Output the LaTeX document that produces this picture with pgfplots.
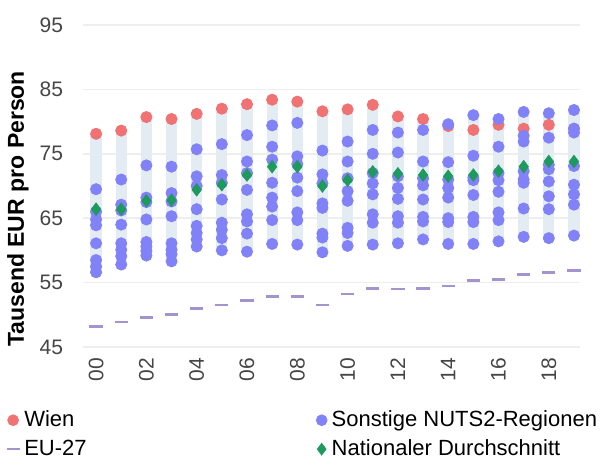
\documentclass[border=0pt]{standalone}
\usepackage{fontspec}
\setmainfont{Liberation Sans}
\usepackage{pgfplots}
\pgfplotsset{compat=1.18}
\usepackage{pgfplotstable}
\usetikzlibrary{calc}

\definecolor{wien}{HTML}{F07272}
\definecolor{nuts}{HTML}{8282F8}
\definecolor{natd}{HTML}{1E9A5E}
\definecolor{eu}{HTML}{A393CF}
\definecolor{band}{HTML}{E2ECF2}
\definecolor{gridc}{HTML}{EEEEEE}
\definecolor{tickc}{HTML}{454545}

% Wien, national average, EU-27
\pgfplotstableread{
x  wien nat  eu
0  78.1 66.4 48.2
1  78.6 66.4 48.9
2  80.7 67.7 49.6
3  80.4 67.8 50.0
4  81.2 69.4 51.0
5  82.0 70.2 51.5
6  82.7 71.7 52.2
7  83.4 73.0 52.8
8  83.1 73.0 52.8
9  81.6 70.0 51.5
10 81.9 70.9 53.2
11 82.6 72.2 54.1
12 80.8 71.9 54.0
13 80.4 71.7 54.1
14 79.3 71.5 54.5
15 78.7 71.7 55.3
16 79.5 72.3 55.5
17 78.9 73.0 56.3
18 79.5 73.8 56.6
19 78.9 73.8 56.9
}\maintab

% other NUTS2 regions
\pgfplotstableread{
x  b1   b2   b3   b4   b5   b6   b7   b8
0  69.5 66.0 64.8 63.9 61.1 58.5 57.5 56.6
1  71.0 67.1 66.2 64.0 61.1 60.1 59.1 57.8
2  73.2 68.2 67.5 64.8 61.3 60.6 59.9 59.2
3  73.0 68.9 67.6 65.3 61.1 60.1 59.4 58.3
4  75.7 71.5 70.0 66.4 63.8 62.7 61.7 60.6
5  76.5 71.7 70.5 67.9 64.3 63.2 61.9 60.0
6  77.9 73.8 72.0 69.4 65.6 64.5 62.6 59.8
7  79.4 76.1 74.1 70.5 68.2 66.8 64.7 61.0
8  79.8 74.6 73.4 71.3 69.2 65.9 64.7 60.9
9  75.5 71.8 70.4 67.3 66.6 62.6 62.0 59.7
10 76.9 73.8 71.2 69.2 67.7 63.5 62.7 60.7
11 78.7 75.0 72.0 70.4 68.7 65.6 64.3 60.9
12 78.3 75.2 71.5 69.7 68.0 65.3 64.3 61.1
13 78.7 73.8 71.2 70.1 67.9 65.2 64.5 61.7
14 79.6 73.7 71.0 69.7 68.2 65.0 64.4 61.0
15 81.0 74.7 71.3 70.9 68.6 65.2 64.4 61.0
16 80.4 76.1 72.0 70.9 69.1 65.9 64.7 61.4
17 81.5 77.8 76.9 72.3 71.0 70.5 66.5 62.1
18 81.3 77.5 73.3 72.6 70.7 68.4 66.4 61.9
19 81.8 78.9 78.3 73.1 70.2 68.7 67.1 62.3
}\nutstab

\begin{document}
\begin{tikzpicture}
\begin{axis}[
  scale only axis,
  width=248.5pt, height=161pt,
  xmin=-0.52, xmax=19.24, ymin=45, ymax=95,
  axis line style={draw=none},
  major tick length=0pt,
  ytick={45,55,...,95},
  xtick={0,2,...,18},
  xticklabels={00,02,04,06,08,10,12,14,16,18},
  ymajorgrids, grid style={gridc, line width=0.8pt},
  /pgf/number format/assume math mode=true,
  tick label style={font=\fontsize{10.5}{12}\selectfont, color=tickc},
  xticklabel style={rotate=90, anchor=east},
  xticklabel shift=2pt,
  yticklabel shift=6.5pt,
  ylabel={Tausend EUR pro Person},
  ylabel style={font=\fontsize{11.5}{13}\selectfont\bfseries, inner sep=0pt,
    at={(axis description cs:-0.1308,0)}, anchor=west},
  unbounded coords=jump,
  legend image code/.code={\draw[#1] plot coordinates {(0pt,0pt)};},
  legend columns=2,
  legend cell align=left,
  legend style={draw=none, fill=none, inner sep=0pt, outer sep=0pt,
    font=\fontsize{11}{13}\selectfont,
    at={(axis description cs:-0.1539,-0.198)}, anchor=north west,
    column sep=0pt, row sep=5pt,
    nodes={inner sep=0pt},
    /tikz/every odd column/.append style={column sep=2.3pt}},
]
% range bands
\addplot[band, line width=5.6pt, line cap=butt, forget plot] coordinates {
(0,56.6)(0,78.1)(0,nan) (1,57.8)(1,78.6)(1,nan) (2,59.2)(2,80.7)(2,nan)
(3,58.3)(3,80.4)(3,nan) (4,60.6)(4,81.2)(4,nan) (5,60.0)(5,82.0)(5,nan)
(6,59.8)(6,82.7)(6,nan) (7,61.0)(7,83.4)(7,nan) (8,60.9)(8,83.1)(8,nan)
(9,59.7)(9,81.6)(9,nan) (10,60.7)(10,81.9)(10,nan) (11,60.9)(11,82.6)(11,nan)
(12,61.1)(12,80.8)(12,nan) (13,61.7)(13,80.4)(13,nan) (14,61.0)(14,79.6)(14,nan)
(15,61.0)(15,81.0)(15,nan) (16,61.4)(16,80.4)(16,nan) (17,62.1)(17,81.5)(17,nan)
(18,61.9)(18,81.3)(18,nan) (19,62.3)(19,81.8)
};
\addplot[only marks, mark=*, mark size=2.8pt, color=wien, forget plot]
  table[x=x, y=wien] {\maintab};
\pgfplotsinvokeforeach{b1,b2,b3,b4,b5,b6,b7,b8}{
  \addplot[only marks, mark=*, mark size=2.8pt, color=nuts, forget plot]
    table[x=x, y=#1] {\nutstab};
}
\addplot[only marks, mark=-, mark size=3.3pt, color=eu, line width=1.3pt, forget plot]
  table[x=x, y=eu] {\maintab};
\addplot[only marks, mark=diamond*, mark size=3.1pt, color=natd, forget plot]
  table[x=x, y=nat] {\maintab};

\addlegendimage{only marks, mark=*, mark size=2.7pt, color=wien}
\addlegendentry{\makebox[146pt][l]{Wien}}
\addlegendimage{only marks, mark=*, mark size=2.7pt, color=nuts}
\addlegendentry{Sonstige NUTS2-Regionen}
\addlegendimage{only marks, mark=-, mark size=3.3pt, color=eu, line width=1.3pt}
\addlegendentry{\makebox[146pt][l]{EU-27}}
\addlegendimage{only marks, mark=diamond*, mark size=2.9pt, color=natd}
\addlegendentry{Nationaler Durchschnitt}

\coordinate (bl) at (rel axis cs:0,0);
\coordinate (tr) at (rel axis cs:1,1);
\end{axis}
\pgfresetboundingbox
\path ($(bl)+(-41.5pt,-57pt)$) rectangle ($(tr)+(14pt,12.5pt)$);
\end{tikzpicture}
\end{document}
